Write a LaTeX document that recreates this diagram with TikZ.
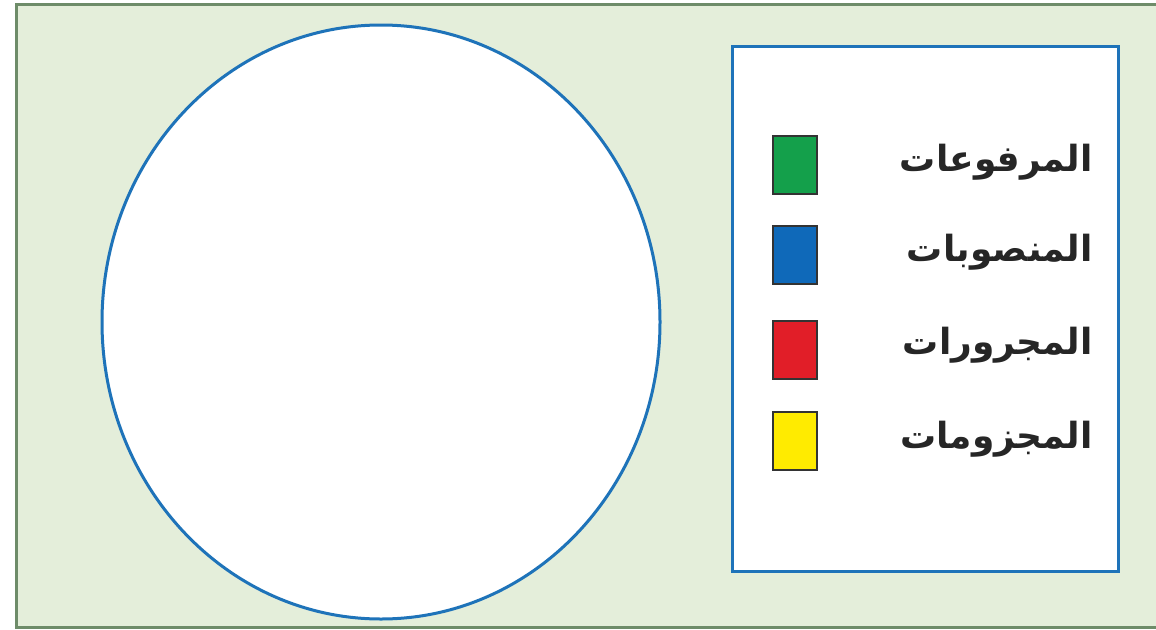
\documentclass[tikz,border=0pt]{standalone}
\usepackage{fontspec}
\usetikzlibrary{shapes.geometric}
\TeXXeTstate=1
\newfontfamily\arabicfont[Script=Arabic]{DejaVu Sans}
\definecolor{bgc}{RGB}{228,238,218}
\definecolor{framec}{RGB}{110,140,105}
\definecolor{bluec}{RGB}{30,115,185}
\definecolor{sqgreen}{RGB}{20,160,75}
\definecolor{sqblue}{RGB}{15,105,185}
\definecolor{sqred}{RGB}{225,30,40}
\definecolor{sqyellow}{RGB}{255,235,0}
\tikzset{
  swatch/.style={draw=black!80, line width=1.5pt, minimum width=44pt, minimum height=58pt, inner sep=0pt},
  lbl/.style={anchor=east, inner sep=0pt, font=\arabicfont\bfseries\fontsize{36}{42}\selectfont, text=black!85}
}
\begin{document}
\begin{tikzpicture}[x=1pt,y=-1pt]
\useasboundingbox (0,0) rectangle (1156,629);
\fill[white] (0,0) rectangle (1156,629);
\fill[bgc] (16,4) rectangle (1160,627);
\draw[framec, line width=3pt] (1160,4) -- (16,4) -- (16,627) -- (1160,627);
\node[draw=bluec, line width=3pt, fill=white, ellipse, minimum width=558pt, minimum height=594pt, inner sep=0pt] (circ) at (381,322) {};
\node[draw=bluec, line width=3pt, fill=white, minimum width=386pt, minimum height=525pt, inner sep=0pt] (legend) at (925,308.5) {};
\node[swatch, fill=sqgreen] (s1) at (795,165) {};
\node[swatch, fill=sqblue] (s2) at (795,255) {};
\node[swatch, fill=sqred] (s3) at (795,350) {};
\node[swatch, fill=sqyellow] (s4) at (795,441) {};
\node[lbl] (t1) at (1093,162) {\beginR المرفوعات\endR};
\node[lbl] (t2) at (1093,252) {\beginR المنصوبات\endR};
\node[lbl] (t3) at (1093,345) {\beginR المجرورات\endR};
\node[lbl] (t4) at (1093,439) {\beginR المجزومات\endR};
\end{tikzpicture}
\end{document}
